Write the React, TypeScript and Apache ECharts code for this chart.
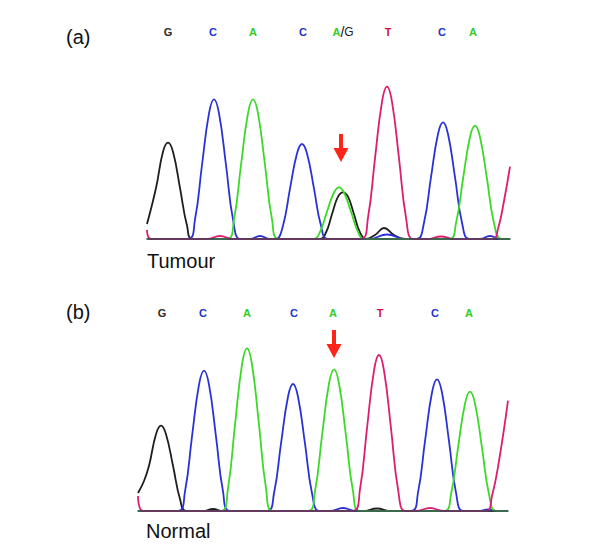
import React, { useEffect, useRef } from "react";
import * as echarts from "echarts";

type Pt = [number, number];

// Panel (a) Tumour traces: [scan position, signal intensity]
const tumourG: Pt[] = [[0,150],[9,510],[16,872],[21,963],[26,872],[33,510],[40,135],[46,0],[173,0],[179,65],[185,248],[191,423],[196,467],[201,423],[207,248],[213,65],[219,0],[228,40],[237,110],[247,40],[258,0],[363,0]];
const tumourC: Pt[] = [[0,0],[41,0],[48,196],[55,740],[62,1257],[67,1397],[72,1257],[79,740],[86,196],[93,0],[103,0],[113,30],[123,0],[129,0],[136,133],[143,504],[150,855],[155,950],[160,855],[167,504],[174,133],[181,0],[222,0],[240,45],[258,0],[270,0],[277,163],[284,619],[291,1050],[296,1167],[301,1050],[308,619],[315,163],[322,0],[333,0],[343,30],[353,0],[363,0]];
const tumourA: Pt[] = [[0,0],[80,0],[87,196],[94,740],[101,1257],[106,1397],[111,1257],[118,740],[125,196],[132,0],[167,0],[173,72],[180,274],[187,465],[192,517],[197,465],[204,274],[211,72],[217,0],[302,0],[309,159],[316,600],[323,1020],[328,1133],[333,1020],[340,600],[347,159],[354,0],[363,0]];
const tumourT: Pt[] = [[0,90],[4,0],[60,0],[73,30],[86,0],[214,0],[221,213],[228,807],[235,1371],[240,1523],[245,1371],[252,807],[259,213],[266,0],[280,0],[294,25],[308,0],[346,0],[351,100],[357,380],[363,723]];

// Panel (b) Normal traces
const normalG: Pt[] = [[0,180],[6,300],[11,452],[18,768],[23,853],[28,768],[35,452],[42,119],[48,0],[65,0],[75,20],[85,0],[225,0],[239,25],[253,0],[370,0]];
const normalC: Pt[] = [[0,0],[40,0],[47,196],[54,744],[61,1263],[66,1403],[71,1263],[78,744],[85,196],[92,0],[129,0],[136,178],[143,673],[150,1143],[155,1270],[160,1143],[167,673],[174,178],[181,0],[192,0],[205,30],[218,0],[273,0],[280,184],[287,698],[294,1185],[299,1317],[304,1185],[311,698],[318,184],[325,0],[340,0],[350,15],[360,0],[370,0]];
const normalA: Pt[] = [[0,0],[83,0],[90,228],[97,862],[104,1464],[109,1627],[114,1464],[121,862],[128,228],[135,0],[170,0],[177,198],[184,751],[191,1275],[196,1417],[201,1275],[208,751],[215,198],[222,0],[306,0],[313,167],[320,632],[327,1074],[332,1193],[337,1074],[344,632],[351,167],[358,0],[370,0]];
const normalT: Pt[] = [[0,150],[5,0],[215,0],[222,218],[229,827],[236,1404],[241,1560],[246,1404],[253,827],[260,218],[267,0],[278,0],[292,30],[306,0],[348,0],[354,150],[361,500],[370,1103]];

// Base calls
const tumourCalls = ["G", "C", "A", "C", "A/G", "T", "C", "A"];
const tumourCallPos = [21, 66, 106, 156, 196, 241, 295, 326];
const normalCalls = ["G", "C", "A", "C", "A", "T", "C", "A"];
const normalCallPos = [24, 65, 109, 156, 195, 242, 297, 331];

// Arrows marking the variant position (centre of the arrow)
const tumourArrow: Pt = [194, 910];
const normalArrow: Pt = [196, 1670];

const TRACE: Record<string, string> = { A: "#3cd92a", C: "#2a32d6", G: "#1e1e1e", T: "#d91f6e" };
const CALL: Record<string, string> = { A: "#33cc1f", C: "#2233cc", G: "#2a2a2a", T: "#c8144a" };

const ARROW_PATH = "path://M5.5,0 L9.5,0 L9.5,14 L15,14 L7.5,28 L0,14 L5.5,14 Z";

const rich = {
  A: { color: CALL.A, fontSize: 11, fontWeight: "bold", fontFamily: "Liberation Sans" },
  C: { color: CALL.C, fontSize: 11, fontWeight: "bold", fontFamily: "Liberation Sans" },
  G: { color: CALL.G, fontSize: 11, fontWeight: "bold", fontFamily: "Liberation Sans" },
  T: { color: CALL.T, fontSize: 11, fontWeight: "bold", fontFamily: "Liberation Sans" },
  S: { color: "#111111", fontSize: 14, fontFamily: "Liberation Sans" },
  G2: { color: "#222222", fontSize: 12, fontFamily: "Liberation Sans" },
};

function callLabel(c: string): string {
  if (c === "A/G") return "{A|A}{S|/}{G2|G}";
  return `{${c}|${c}}`;
}

function traceSeries(data: Pt[], base: string, idx: number) {
  return {
    type: "line",
    xAxisIndex: idx,
    yAxisIndex: idx,
    data,
    smooth: 0.45,
    symbol: "none",
    showSymbol: false,
    silent: true,
    clip: false,
    lineStyle: { color: TRACE[base], width: 1.8 },
    z: 2,
  };
}

function arrowSeries(pt: Pt, idx: number) {
  return {
    type: "scatter",
    xAxisIndex: idx,
    yAxisIndex: idx,
    clip: false,
    silent: true,
    symbol: ARROW_PATH,
    symbolSize: [15, 28],
    itemStyle: { color: "#ff2418", opacity: 1 },
    data: [pt],
    z: 4,
  };
}

function callSeries(calls: string[], pos: number[], y: number, idx: number) {
  return {
    type: "scatter",
    xAxisIndex: idx,
    yAxisIndex: idx,
    clip: false,
    silent: true,
    symbolSize: 1,
    itemStyle: { color: "rgba(0,0,0,0)", opacity: 1 },
    data: calls.map((c, i) => ({ value: [pos[i], y], name: c })),
    label: {
      show: true,
      position: "inside",
      opacity: 1,
      formatter: (p: any) => callLabel(p.name),
      rich,
    },
    z: 5,
  };
}

export default function App() {
  const ref = useRef<HTMLDivElement>(null);
  useEffect(() => {
    document.body.style.margin = "0";
    if (!ref.current) return;
    const chart = echarts.init(ref.current, null, { renderer: "svg" });
    const axisBase = {
      type: "value",
      axisTick: { show: false },
      axisLabel: { show: false },
      splitLine: { show: false },
    };
    const titleStyle = { fontSize: 20, fontWeight: "normal", color: "#111111", fontFamily: "Liberation Sans" };
    chart.setOption({
      animation: false,
      backgroundColor: "#ffffff",
      title: [
        { text: "(a)", left: 66, top: 27, padding: 0, textStyle: titleStyle },
        { text: "Tumour", left: 147, top: 251, padding: 0, textStyle: titleStyle },
        { text: "(b)", left: 66, top: 302, padding: 0, textStyle: titleStyle },
        { text: "Normal", left: 146, top: 521, padding: 0, textStyle: titleStyle },
      ],
      grid: [
        { left: 147, top: 59, width: 363, height: 180 },
        { left: 138, top: 331, width: 370, height: 180 },
      ],
      xAxis: [
        { ...axisBase, gridIndex: 0, min: 0, max: 363, z: 6, axisLine: { show: true, lineStyle: { color: "#3a4458", width: 1.5 } } },
        { ...axisBase, gridIndex: 1, min: 0, max: 370, z: 6, axisLine: { show: true, lineStyle: { color: "#3a4458", width: 1.5 } } },
      ],
      yAxis: [
        { ...axisBase, gridIndex: 0, min: 0, max: 1800, axisLine: { show: false } },
        { ...axisBase, gridIndex: 1, min: 0, max: 1800, axisLine: { show: false } },
      ],
      series: [
        traceSeries(tumourG, "G", 0),
        traceSeries(tumourC, "C", 0),
        traceSeries(tumourA, "A", 0),
        traceSeries(tumourT, "T", 0),
        arrowSeries(tumourArrow, 0),
        callSeries(tumourCalls, tumourCallPos, 2073, 0),
        traceSeries(normalG, "G", 1),
        traceSeries(normalC, "C", 1),
        traceSeries(normalA, "A", 1),
        traceSeries(normalT, "T", 1),
        arrowSeries(normalArrow, 1),
        callSeries(normalCalls, normalCallPos, 1977, 1),
      ],
    });
    return () => chart.dispose();
  }, []);
  return <div ref={ref} style={{ width: 600, height: 556 }} />;
}
